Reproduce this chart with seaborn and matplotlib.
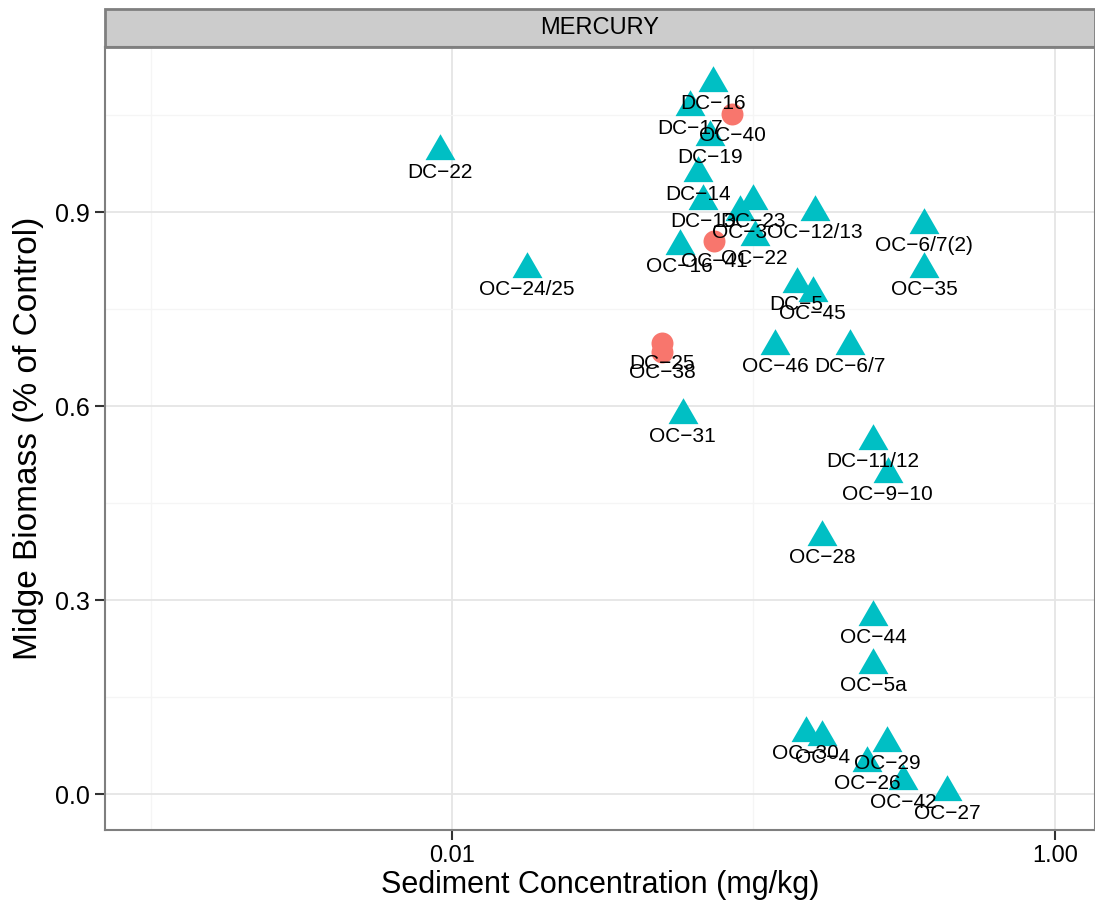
import numpy as np
import pandas as pd
import matplotlib
matplotlib.use("Agg")
import matplotlib.pyplot as plt
from matplotlib.path import Path
from matplotlib.patches import Rectangle
from matplotlib.ticker import NullFormatter
import seaborn as sns

# station labels, sediment concentration (mg/kg), biomass (% of control)
tri_site = ["DC-16", "DC-17", "DC-19", "DC-14", "DC-13", "DC-23", "OC-3", "OC-12/13",
            "OC-22", "OC-16", "OC-6/7(2)", "OC-35", "DC-22", "OC-24/25", "DC-5", "OC-45",
            "OC-46", "DC-6/7", "OC-31", "DC-11/12", "OC-9-10", "OC-28", "OC-44", "OC-5a",
            "OC-30", "OC-4", "OC-29", "OC-26", "OC-42", "OC-27"]
tri_conc = [0.0735, 0.0615, 0.0718, 0.0655, 0.0680, 0.0995, 0.0901, 0.160,
            0.101, 0.0570, 0.368, 0.368, 0.00912, 0.0177, 0.139, 0.157,
            0.118, 0.209, 0.0583, 0.249, 0.279, 0.169, 0.249, 0.249,
            0.149, 0.169, 0.277, 0.238, 0.313, 0.439]
tri_bio = [1.100, 1.062, 1.016, 0.960, 0.917, 0.917, 0.900, 0.900,
           0.861, 0.848, 0.880, 0.812, 0.994, 0.812, 0.789, 0.775,
           0.693, 0.693, 0.586, 0.546, 0.495, 0.398, 0.274, 0.200,
           0.0955, 0.0894, 0.080, 0.049, 0.020, 0.003]

dot_site = ["OC-40", "OC-41", "DC-25", "OC-38"]
dot_conc = [0.0849, 0.0740, 0.0497, 0.0497]
dot_bio = [1.051, 0.855, 0.698, 0.684]

tri = pd.DataFrame({"site": tri_site, "conc": tri_conc, "biomass": tri_bio})
dot = pd.DataFrame({"site": dot_site, "conc": dot_conc, "biomass": dot_bio})

sns.set_style("white")
plt.rcParams["font.family"] = ["Liberation Sans", "DejaVu Sans"]

fig = plt.figure(figsize=(10.95, 9.14), dpi=100)
ax = fig.add_axes([105 / 1095, 84 / 914, 990 / 1095, 783 / 914])

# equilateral triangle like ggplot shape 17
tri_marker = Path([(0, 1), (-0.866, -0.5), (0.866, -0.5), (0, 1)],
                  [Path.MOVETO, Path.LINETO, Path.LINETO, Path.CLOSEPOLY])

sns.scatterplot(data=dot, x="conc", y="biomass", color="#F8766D", marker="o",
                s=250, linewidth=0, ax=ax, zorder=3)
sns.scatterplot(data=tri, x="conc", y="biomass", color="#00BFC4", marker=tri_marker,
                s=620, linewidth=0, ax=ax, zorder=3)

for df in (dot, tri):
    for _, r in df.iterrows():
        ax.annotate(r["site"].replace("-", "\u2212"), (r["conc"], r["biomass"]),
                    xytext=(0, -15), textcoords="offset points", ha="center",
                    va="center", fontsize=15, color="black", zorder=4)

ax.set_xscale("log")
ax.set_xlim(10 ** -3.151, 10 ** 0.133)
ax.set_ylim(-0.055, 1.155)
ax.set_xticks([0.01, 1.0])
ax.set_xticklabels(["0.01", "1.00"])
ax.set_xticks([0.001, 0.1], minor=True)
ax.xaxis.set_minor_formatter(NullFormatter())
ax.set_yticks([0.0, 0.3, 0.6, 0.9])
ax.set_yticklabels(["0.0", "0.3", "0.6", "0.9"])
ax.set_yticks([0.15, 0.45, 0.75, 1.05], minor=True)

ax.grid(which="major", color="#E5E5E5", linewidth=1.3)
ax.grid(which="minor", color="#F5F5F5", linewidth=1.0)
ax.set_axisbelow(True)

ax.tick_params(axis="both", which="major", length=7, width=1.5, color="#333333",
               direction="out", left=True, bottom=True, labelcolor="black")
ax.tick_params(axis="both", which="minor", length=0)
ax.tick_params(axis="y", labelsize=18, pad=4)
ax.tick_params(axis="x", labelsize=17, pad=4)

for sp in ax.spines.values():
    sp.set_color("#7F7F7F")
    sp.set_linewidth(1.5)

ax.set_xlabel("Sediment Concentration (mg/kg)", fontsize=22, labelpad=2, color="black")
ax.set_ylabel("Midge Biomass (% of Control)", fontsize=24, labelpad=8, color="black")

# facet strip
strip_h = 38 / 783
ax.add_patch(Rectangle((0, 1), 1, strip_h, transform=ax.transAxes, clip_on=False,
                       facecolor="#CCCCCC", edgecolor="#7F7F7F", linewidth=2))
ax.text(0.5, 1 + strip_h / 2, "MERCURY", transform=ax.transAxes, ha="center",
        va="center", fontsize=17, color="black")

fig.savefig("out.png", dpi=100)
